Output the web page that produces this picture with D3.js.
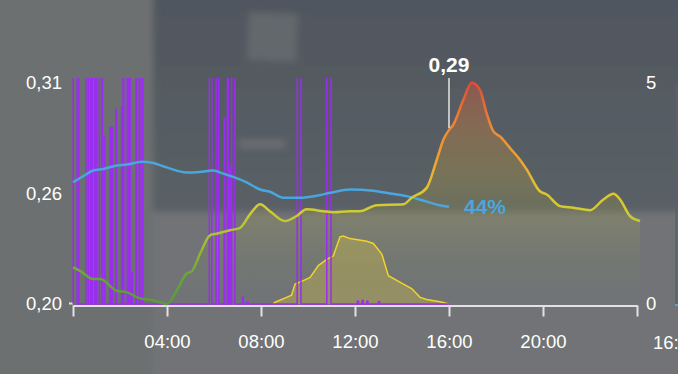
<!DOCTYPE html>
<html lang="en">
<head>
    <meta charset="UTF-8">
    <title>Price, battery and power today</title>
    <style>
        body, html {
            margin: 0;
            padding: 0;
            background: #717375;
        }
        svg {
            display: block;
            font-family: "Liberation Sans", Arial, sans-serif;
        }
        .axis text {
            fill: #ffffff;
            font-size: 18.5px;
        }
        .axis path, .axis line {
            stroke: #e2e2e2;
            stroke-width: 2;
        }
        .marker-label {
            fill: #ffffff;
            font-size: 21px;
            font-weight: bold;
        }
    </style>
    <script src="https://cdn.jsdelivr.net/npm/d3@7"></script>
</head>
<body>
    <svg id="chart" width="678" height="374"></svg>
    <script>
        // ticks
        const hourTicks = [0, 4, 8, 12, 16, 20, 24];
        const hourTickLabels = ["", "04:00", "08:00", "12:00", "16:00", "20:00", ""];
        const priceTicks = [0.20, 0.255, 0.31];
        const priceTickLabels = ["0,20", "0,26", "0,31"];
        const powerTicks = [0, 5];
        const nowHour = 16;

        // price per kWh (left axis)
        const priceHours = [0, 0.3, 0.86, 1.15, 1.86, 2.29, 2.85, 3.28, 3.7, 3.99, 4.41, 4.84, 5.05, 5.4, 5.83, 6.11,
            6.68, 7.11, 7.53, 7.96, 8.38, 9.02, 9.52, 9.94, 10.65, 11.08, 11.79, 12.21, 12.92, 14.06, 14.41, 15.05,
            15.48, 15.76, 16, 16.18, 16.61, 16.97, 17.32, 17.6, 17.89, 18.17, 18.6, 19.02, 19.31, 19.87, 20.16,
            20.72, 21.29, 22, 22.57, 23, 23.28, 23.7, 24.13];
        const priceValues = [0.2182, 0.2165, 0.2124, 0.2124, 0.2066, 0.2058, 0.2028, 0.2021, 0.2008, 0.2000, 0.2066,
            0.2152, 0.2162, 0.2248, 0.2342, 0.2350, 0.2367, 0.2379, 0.2446, 0.2496, 0.2462, 0.2413, 0.2438, 0.2471,
            0.2462, 0.2457, 0.2462, 0.2462, 0.2492, 0.2496, 0.2529, 0.2578, 0.2718, 0.2818, 0.2866, 0.2892, 0.3016,
            0.3101, 0.3065, 0.2950, 0.2859, 0.2834, 0.2776, 0.2718, 0.2669, 0.2561, 0.2545, 0.2487, 0.2479, 0.2467,
            0.2520, 0.2549, 0.2520, 0.2438, 0.2413];

        // battery charge in %
        const batteryHours = [0, 0.43, 0.86, 1.3, 1.86, 2.3, 2.93, 3.42, 3.99, 4.84, 5.26, 5.97, 6.39, 6.82, 7.39,
            7.96, 8.38, 8.95, 9.66, 10.37, 10.94, 11.79, 12.77, 13.49, 14.2, 14.9, 15.6, 16];
        const batteryValues = [55.1, 57.8, 60.4, 61.1, 62.7, 63.1, 64.4, 63.8, 61.8, 59.5, 59.6, 60.4, 59.0, 57.5,
            55.0, 51.8, 50.8, 48.1, 48.1, 49.0, 50.3, 51.8, 51.2, 50.0, 48.8, 46.8, 44.7, 44.0];

        // solar power kW (right axis)
        const solarHours = [8.51, 8.6, 9.09, 9.3, 9.45, 9.8, 10.09, 10.44, 10.8, 11.08, 11.36, 11.5, 11.79, 12.5,
            12.78, 13.14, 13.42, 14.06, 14.41, 14.77, 15.05, 15.62, 16];
        const solarValues = [0, 0.04, 0.15, 0.2, 0.45, 0.53, 0.6, 0.87, 1.01, 1.09, 1.52, 1.54, 1.48, 1.42, 1.37,
            1.13, 0.64, 0.45, 0.35, 0.15, 0.1, 0.05, 0];

        // grid draw kW (right axis): [from hour, to hour, kW]
        const gridPulses = [
            [0.01, 0.18, 6], [0.22, 0.25, 6], [0.55, 0.65, 6], [0.75, 0.82, 6], [0.93, 0.96, 6], [1.01, 1.12, 6],
            [1.22, 1.25, 6], [1.33, 1.35, 3.8], [1.57, 1.6, 4.0], [1.66, 1.69, 4.0], [1.83, 1.85, 4.4],
            [2.07, 2.1, 4.45], [2.13, 2.16, 6], [2.31, 2.34, 6], [2.4, 2.43, 6], [2.5, 2.52, 0.7], [2.68, 2.71, 6],
            [2.82, 2.85, 6], [2.95, 2.97, 6],
            [5.8, 5.91, 6], [6.09, 6.2, 6], [6.43, 6.46, 4.2], [6.57, 6.61, 6], [6.67, 6.7, 3.1], [6.75, 6.89, 6],
            [7.21, 7.25, 0.15], [7.4, 7.45, 0.05],
            [9.54, 9.7, 6], [10.8, 10.98, 6],
            [12.1, 12.15, 0.06], [12.3, 12.35, 0.08], [12.5, 12.55, 0.06], [13.0, 13.05, 0.05]
        ];
        const gridEnd = 16;

        const svg = d3.select("#chart");
        const x = d3.scaleLinear().domain([0, 24]).range([73, 637]);
        const yPrice = d3.scaleLinear().domain([0.20, 0.31]).range([304, 83]);
        const yPower = d3.scaleLinear().domain([0, 5]).range([304, 83]);
        const yPct = d3.scaleLinear().domain([0, 100]).range([304, 83]);
        const comma = d3.formatLocale({decimal: ",", thousands: ".", grouping: [3], currency: ["", "€"]});

        const defs = svg.append("defs");
        defs.append("filter").attr("id", "soft")
            .attr("x", "-20%").attr("y", "-20%").attr("width", "140%").attr("height", "140%")
            .append("feGaussianBlur").attr("stdDeviation", 3);

        const panelGrad = defs.append("linearGradient").attr("id", "panelGrad")
            .attr("x1", 0).attr("x2", 0).attr("y1", 0).attr("y2", 1);
        panelGrad.append("stop").attr("offset", "0%").attr("stop-color", "#4f565e");
        panelGrad.append("stop").attr("offset", "100%").attr("stop-color", "#5a6066");

        // price colour runs with the value: green low, red high
        const strokeStops = [[0, "#5a9a3c"], [0.12, "#68a43a"], [0.3, "#a8c034"], [0.42, "#cfcc30"],
            [0.52, "#e0c42e"], [0.65, "#f0a232"], [0.8, "#f08a32"], [1, "#e04c38"]];
        const fillStops = [[0, "#5a9a3c", 0], [0.35, "#c8cc38", 0.12], [0.55, "#e8c030", 0.2],
            [0.8, "#f08a30", 0.3], [1, "#e0503a", 0.4]];

        const priceStroke = defs.append("linearGradient").attr("id", "priceStroke")
            .attr("gradientUnits", "userSpaceOnUse")
            .attr("x1", 0).attr("x2", 0).attr("y1", yPrice(0.20)).attr("y2", yPrice(0.31));
        strokeStops.forEach(s => priceStroke.append("stop").attr("offset", s[0]).attr("stop-color", s[1]));

        const priceFill = defs.append("linearGradient").attr("id", "priceFill")
            .attr("gradientUnits", "userSpaceOnUse")
            .attr("x1", 0).attr("x2", 0).attr("y1", yPrice(0.20)).attr("y2", yPrice(0.31));
        fillStops.forEach(s => priceFill.append("stop").attr("offset", s[0])
            .attr("stop-color", s[1]).attr("stop-opacity", s[2]));

        defs.append("clipPath").attr("id", "plotClip")
            .append("rect").attr("x", 60).attr("y", 78).attr("width", 600).attr("height", 240);

        // blurred photo behind the chart
        const bg = svg.append("g").attr("filter", "url(#soft)");
        bg.append("rect").attr("x", -20).attr("y", -20).attr("width", 720).attr("height", 420).attr("fill", "#717376");
        bg.append("rect").attr("x", -20).attr("y", -20).attr("width", 173).attr("height", 420).attr("fill", "#6d6f71");
        bg.append("rect").attr("x", 153).attr("y", -20).attr("width", 560).attr("height", 232).attr("fill", "url(#panelGrad)");
        bg.append("rect").attr("x", 248).attr("y", 13).attr("width", 49).attr("height", 48)
            .attr("fill", "#62676c").attr("transform", "rotate(2 272 37)");
        bg.append("rect").attr("x", 239).attr("y", 140).attr("width", 46).attr("height", 8).attr("fill", "#6a6e72");

        // axes
        const bottomAxis = svg.append("g").attr("class", "axis")
            .attr("transform", "translate(0,305.5)")
            .call(d3.axisBottom(x).tickValues(hourTicks).tickFormat((d, i) => hourTickLabels[i])
                .tickSize(11).tickSizeOuter(0).tickPadding(18));
        bottomAxis.append("line").attr("x1", 69).attr("x2", 73).attr("y1", -2).attr("y2", -2);

        const leftAxis = svg.append("g").attr("class", "axis")
            .attr("transform", "translate(73,0)")
            .call(d3.axisLeft(yPrice).tickValues(priceTicks).tickFormat((d, i) => priceTickLabels[i])
                .tickSize(0).tickPadding(11));
        leftAxis.select(".domain").remove();

        const rightAxis = svg.append("g").attr("class", "axis")
            .attr("transform", "translate(637,0)")
            .call(d3.axisRight(yPower).tickValues(powerTicks).tickFormat(d3.format("d"))
                .tickSize(0).tickPadding(9));
        rightAxis.select(".domain").remove();

        const plot = svg.append("g").attr("clip-path", "url(#plotClip)");

        // price area + line
        const priceData = priceHours.map((h, i) => [h, priceValues[i]]);
        plot.append("path").datum(priceData)
            .attr("fill", "url(#priceFill)")
            .attr("d", d3.area().x(d => x(d[0])).y0(yPrice(0.20)).y1(d => yPrice(d[1])).curve(d3.curveMonotoneX));

        // solar
        const solarData = solarHours.map((h, i) => [h, solarValues[i]]);
        plot.append("path").datum(solarData)
            .attr("fill", "rgba(214,196,70,0.35)")
            .attr("d", d3.area().x(d => x(d[0])).y0(yPower(0)).y1(d => yPower(d[1])));
        plot.append("path").datum(solarData)
            .attr("fill", "none").attr("stroke", "#f2d22e").attr("stroke-width", 1.5)
            .attr("d", d3.line().x(d => x(d[0])).y(d => yPower(d[1])));

        // grid pulses
        const gridData = [[0, 0]];
        gridPulses.forEach(p => {
            gridData.push([p[0], 0], [p[0], p[2]], [p[1], p[2]], [p[1], 0]);
        });
        gridData.push([gridEnd, 0]);
        plot.append("path").datum(gridData)
            .attr("fill", "none").attr("stroke", "#9b2cf2").attr("stroke-width", 1.5)
            .attr("d", d3.line().x(d => x(d[0])).y(d => yPower(d[1])));

        // battery
        const batteryData = batteryHours.map((h, i) => [h, batteryValues[i]]);
        plot.append("path").datum(batteryData)
            .attr("fill", "none").attr("stroke", "#4aa6de").attr("stroke-width", 2.5)
            .attr("d", d3.line().x(d => x(d[0])).y(d => yPct(d[1])).curve(d3.curveMonotoneX));

        plot.append("path").datum(priceData)
            .attr("fill", "none").attr("stroke", "url(#priceStroke)").attr("stroke-width", 2.5)
            .attr("d", d3.line().x(d => x(d[0])).y(d => yPrice(d[1])).curve(d3.curveMonotoneX));

        // now marker
        const nowPrice = priceValues[priceHours.indexOf(nowHour)];
        svg.append("line")
            .attr("x1", x(nowHour)).attr("x2", x(nowHour))
            .attr("y1", 78).attr("y2", yPrice(nowPrice) - 2)
            .attr("stroke", "#e6e6e6").attr("stroke-width", 1.5);
        svg.append("text").attr("class", "marker-label")
            .attr("x", x(nowHour)).attr("y", 71.5).attr("text-anchor", "middle")
            .text(comma.format(".2f")(nowPrice));

        const lastBattery = batteryValues[batteryValues.length - 1];
        svg.append("text")
            .attr("x", x(nowHour) + 15).attr("y", yPct(lastBattery) + 7.5)
            .attr("fill", "#4aa6de").attr("font-size", 21).attr("font-weight", "bold")
            .text(d3.format("d")(lastBattery) + "%");

        // edge of the next panel
        svg.append("line").attr("x1", 676.5).attr("x2", 676.5).attr("y1", 85).attr("y2", 305)
            .attr("stroke", "#5c6065").attr("stroke-width", 2);
        svg.append("line").attr("x1", 675).attr("x2", 678).attr("y1", 305).attr("y2", 305)
            .attr("stroke", "#4aa6de").attr("stroke-width", 2);
        svg.append("text").attr("x", 653).attr("y", 349)
            .attr("fill", "#ffffff").attr("font-size", 18.5).text("16:00");
    </script>
</body>
</html>
